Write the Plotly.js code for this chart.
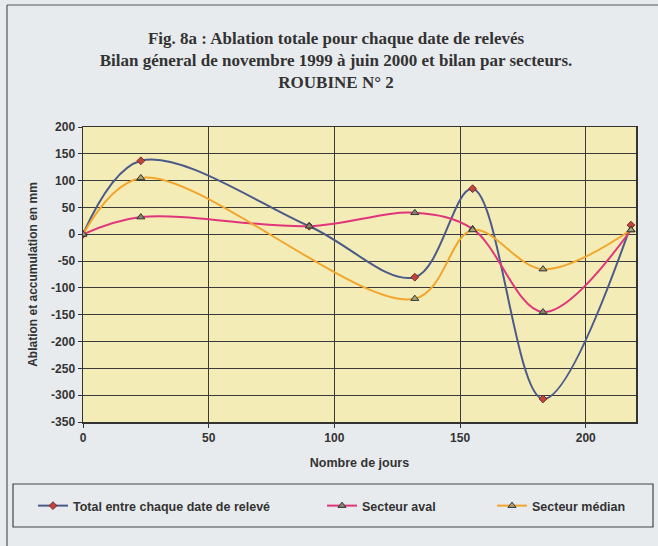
<!DOCTYPE html>
<html>
<head>
<meta charset="utf-8">
<script src="https://cdn.plot.ly/plotly-3.0.1.min.js"></script>
<style>html,body{margin:0;padding:0;background:#e8ebee;}#chart{width:658px;height:546px;}</style>
</head>
<body>
<div id="chart"></div>
<script>
// Data
const daysTotal = [0, 23, 90, 132, 155, 183, 218];
const total     = [0, 137, 15, -80, 85, -307, 17];
const daysAval  = [0, 23, 90, 132, 155, 183, 218];
const aval      = [0, 32, 15, 40, 10, -145, 8];
const daysMed   = [0, 23, 132, 155, 183, 218];
const median    = [0, 105, -120, 8, -65, 8];
const seriesNames = ["Total entre chaque date de relevé", "Secteur aval", "Secteur médian"];
const xTicks = [0, 50, 100, 150, 200];
const yTicks = [-350, -300, -250, -200, -150, -100, -50, 0, 50, 100, 150, 200];

// geometry (pixels)
const W = 658, H = 546;
const L = 83, R = 636, T = 127, B = 422;
const pw = R - L, ph = B - T;
const px = v => (v - L) / pw;
const py = v => (B - v) / ph;

const sans = 'Liberation Sans, Arial, sans-serif';
const legFont = {family: sans, size: 12.5, color: '#333', weight: 'bold'};

const traces = [
  {x: daysTotal, y: total, name: seriesNames[0], mode: 'lines+markers',
   line: {shape: 'spline', smoothing: 1, color: '#4b5a88', width: 2},
   marker: {symbol: 'diamond', size: 6, color: '#c0443c', line: {color: '#7a2a2a', width: 1}},
   legend: 'legend'},
  {x: daysAval, y: aval, name: seriesNames[1], mode: 'lines+markers',
   line: {shape: 'spline', smoothing: 1, color: '#e0357a', width: 2},
   marker: {symbol: 'triangle-up', size: 7, color: '#7f8a6a', line: {color: '#333', width: 1}},
   legend: 'legend2'},
  {x: daysMed, y: median, name: seriesNames[2], mode: 'lines+markers',
   line: {shape: 'spline', smoothing: 1, color: '#f2a52c', width: 2},
   marker: {symbol: 'triangle-up', size: 7, color: '#a7a47a', line: {color: '#333', width: 1}},
   legend: 'legend3'}
];

const legBase = {orientation: 'h', yanchor: 'middle', xanchor: 'left', bgcolor: 'rgba(0,0,0,0)',
                 borderwidth: 0, font: legFont, itemwidth: 30};

const layout = {
  width: W, height: H,
  paper_bgcolor: '#e8ebee',
  plot_bgcolor: '#f4ecb6',
  margin: {l: L, r: W - R, t: T, b: H - B, pad: 0},
  showlegend: true,
  title: {
    text: 'Fig. 8a : Ablation totale pour chaque date de relevés<br>Bilan géneral de novembre 1999 à juin 2000 et bilan par secteurs.<br>ROUBINE N° 2',
    font: {family: 'Liberation Serif, Times New Roman, serif', size: 17, color: '#333', weight: 'bold'},
    x: 336 / W, xanchor: 'center', xref: 'container',
    y: 1 - 44 / H, yanchor: 'top', yref: 'container'
  },
  xaxis: {
    range: [0, 220], tickvals: xTicks, ticktext: xTicks.map(String),
    showgrid: true, gridcolor: '#3a3a3a', gridwidth: 1,
    zeroline: false, showline: true, linecolor: '#333', linewidth: 1.5, mirror: true,
    ticks: 'outside', ticklen: 4, tickcolor: '#333',
    tickfont: {family: sans, size: 12, color: '#333', weight: 'bold'},
    title: {text: 'Nombre de jours', standoff: 14,
            font: {family: sans, size: 12.5, color: '#333', weight: 'bold'}}
  },
  yaxis: {
    range: [-350, 200], tickvals: yTicks, ticktext: yTicks.map(String),
    showgrid: true, gridcolor: '#3a3a3a', gridwidth: 1,
    zeroline: false, showline: true, linecolor: '#333', linewidth: 1.5, mirror: true,
    ticks: 'outside', ticklen: 4, tickcolor: '#333',
    tickfont: {family: sans, size: 12, color: '#333', weight: 'bold'},
    title: {text: 'Ablation et accumulation en mm', standoff: 11,
            font: {family: sans, size: 12, color: '#333', weight: 'bold'}}
  },
  legend:  Object.assign({}, legBase, {x: px(33), y: py(506)}),
  legend2: Object.assign({}, legBase, {x: px(322), y: py(506)}),
  legend3: Object.assign({}, legBase, {x: px(492), y: py(506)}),
  shapes: [
    // page frame
    {type: 'line', xref: 'paper', yref: 'paper', x0: px(7), x1: px(7), y0: py(5), y1: py(560),
     line: {color: '#555', width: 1.2}},
    {type: 'line', xref: 'paper', yref: 'paper', x0: px(7), x1: px(665), y0: py(5), y1: py(5),
     line: {color: '#555', width: 1.2}},
    // legend box
    {type: 'rect', xref: 'paper', yref: 'paper', x0: px(13), x1: px(653), y0: py(484), y1: py(527),
     line: {color: '#444', width: 1.2}, fillcolor: 'rgba(0,0,0,0)'}
  ]
};

Plotly.newPlot('chart', traces, layout, {displayModeBar: false, staticPlot: true});
</script>
</body>
</html>
